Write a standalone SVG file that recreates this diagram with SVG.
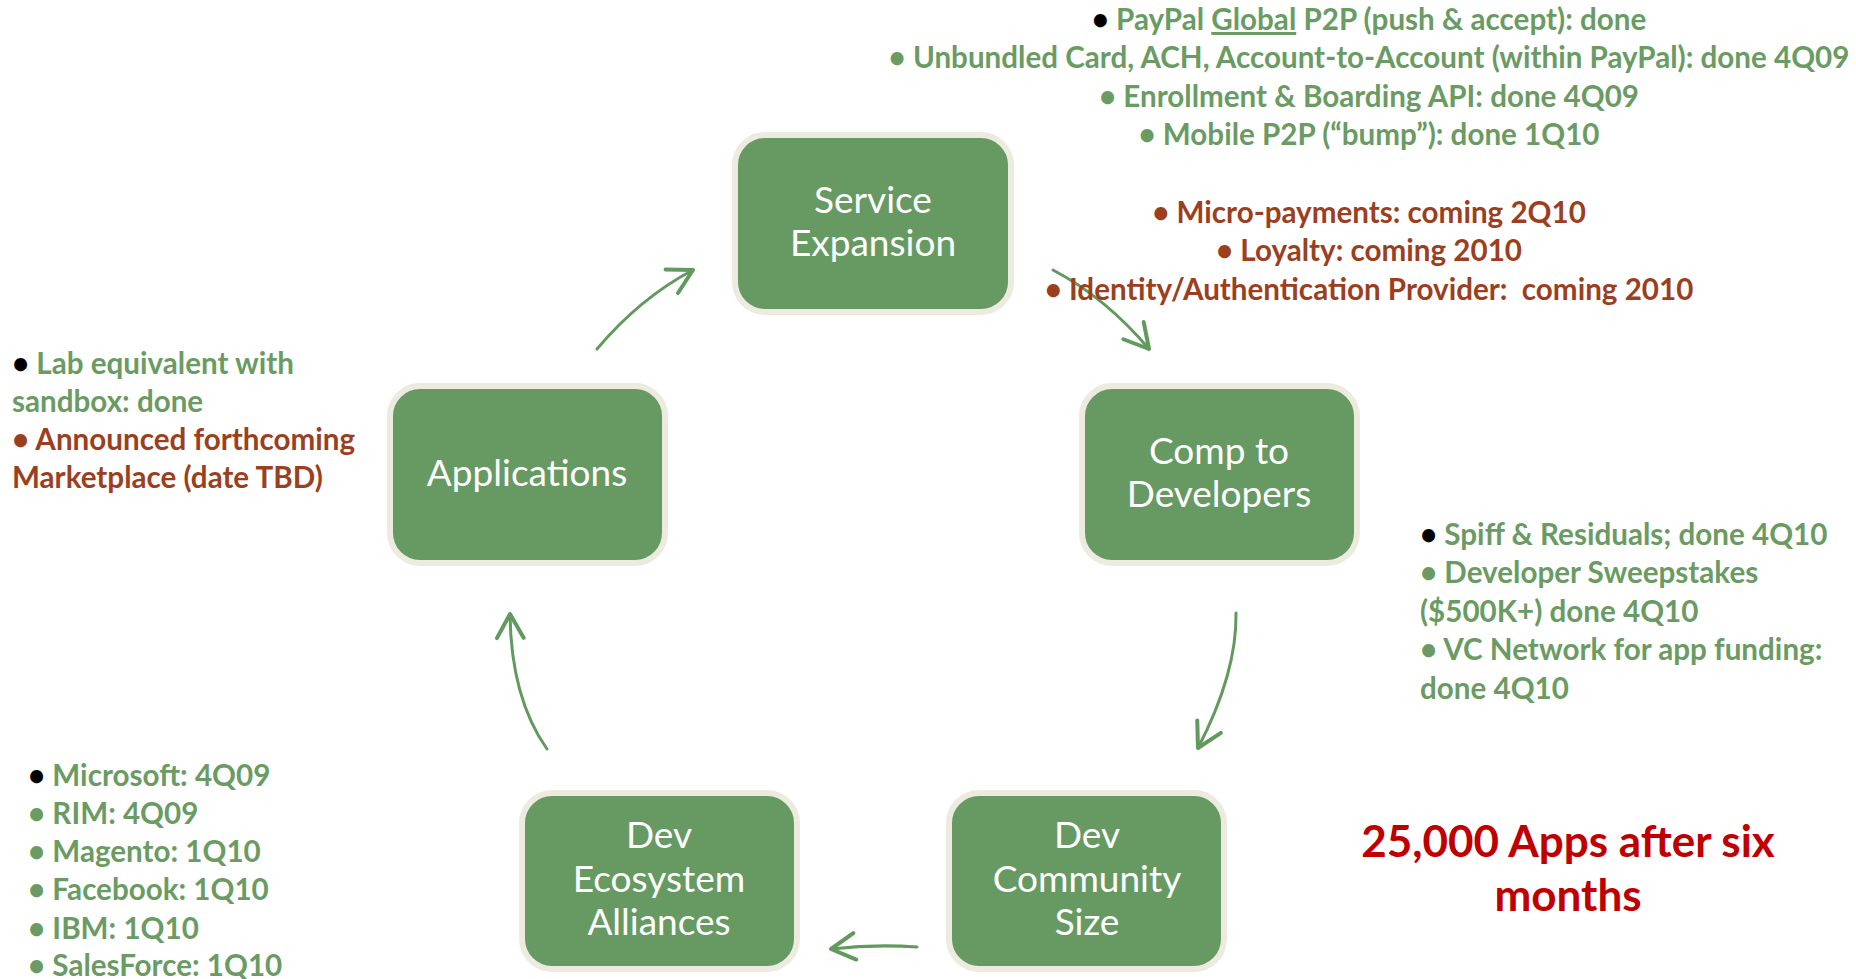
<svg xmlns="http://www.w3.org/2000/svg" width="1856" height="979" viewBox="0 0 1856 979">
<style>
.box{fill:#679A63;stroke:#EDEAE0;stroke-width:6}
.bt{font-family:Lato,"Liberation Sans",sans-serif;font-size:37px;fill:#FFFFFF;text-anchor:middle}
.g{font-family:Lato,"Liberation Sans",sans-serif;font-weight:bold;font-size:29.6px;fill:#6A9B63}
.r{font-family:Lato,"Liberation Sans",sans-serif;font-weight:bold;font-size:29.6px;fill:#9B3F1F}
.big{font-family:Lato,"Liberation Sans",sans-serif;font-weight:bold;font-size:44px;fill:#C00000;text-anchor:middle}
.mid{text-anchor:middle}
.k{fill:#000000}
.conn path.l{fill:none;stroke:#629A5E;stroke-width:3;stroke-linecap:round}
</style>
<defs>
<marker id="ah" markerUnits="userSpaceOnUse" markerWidth="40" markerHeight="40" viewBox="-25 -15 30 30" refX="0" refY="0" orient="auto">
<path d="M-18,-10 L0,0 L-18,10" fill="none" stroke="#629A5E" stroke-width="3" stroke-linecap="round" stroke-linejoin="round"/>
</marker>
</defs>
<rect width="1856" height="979" fill="#FFFFFF"/>

<g id="connectors" class="conn">
<path class="l" d="M597,349 Q640,298 693,270" marker-end="url(#ah)"/>
<path class="l" d="M1053,270 Q1106,298 1149,349" marker-end="url(#ah)"/>
<path class="l" d="M1236,613 Q1237,673 1198,748" marker-end="url(#ah)"/>
<path class="l" d="M917,947 Q875,944 831,949" marker-end="url(#ah)"/>
<path class="l" d="M547,749 Q511,698 510,614" marker-end="url(#ah)"/>
</g>

<g id="node-service">
<rect class="box" x="735" y="135" width="276" height="177" rx="30"/>
<text class="bt" x="873" y="213">Service</text>
<text class="bt" x="873" y="256">Expansion</text>
</g>
<g id="node-comp">
<rect class="box" x="1082" y="386" width="275" height="177" rx="30"/>
<text class="bt" x="1219" y="464">Comp to</text>
<text class="bt" x="1219" y="507">Developers</text>
</g>
<g id="node-applications">
<rect class="box" x="390" y="386" width="275" height="177" rx="30"/>
<text class="bt" x="527" y="486">Applications</text>
</g>
<g id="node-ecosystem">
<rect class="box" x="522" y="793" width="275" height="176" rx="30"/>
<text class="bt" x="659" y="848">Dev</text>
<text class="bt" x="659" y="892">Ecosystem</text>
<text class="bt" x="659" y="935">Alliances</text>
</g>
<g id="node-community">
<rect class="box" x="949" y="793" width="275" height="176" rx="30"/>
<text class="bt" x="1087" y="848">Dev</text>
<text class="bt" x="1087" y="892">Community</text>
<text class="bt" x="1087" y="935">Size</text>
</g>

<g id="notes-service">
<text class="g mid" x="1369" y="30"><tspan class="k">•</tspan> PayPal <tspan text-decoration="underline">Global</tspan> P2P (push &amp; accept): done</text>
<text class="g mid" x="1369" y="68">• Unbundled Card, ACH, Account-to-Account (within PayPal): done 4Q09</text>
<text class="g mid" x="1369" y="107">• Enrollment &amp; Boarding API: done 4Q09</text>
<text class="g mid" x="1369" y="145">• Mobile P2P (“bump”): done 1Q10</text>
<text class="r mid" x="1369" y="223">• Micro-payments: coming 2Q10</text>
<text class="r mid" x="1369" y="261">• Loyalty: coming 2010</text>
<text class="r mid" x="1369" y="300" xml:space="preserve">• Identity/Authentication Provider:  coming 2010</text>
</g>

<g id="notes-applications">
<text class="g" x="12" y="374"><tspan class="k">•</tspan> Lab equivalent with</text>
<text class="g" x="12" y="412">sandbox: done</text>
<text class="r" x="12" y="450">• Announced forthcoming</text>
<text class="r" x="12" y="488">Marketplace (date TBD)</text>
</g>

<g id="notes-comp">
<text class="g" x="1420" y="545"><tspan class="k">•</tspan> Spiff &amp; Residuals; done 4Q10</text>
<text class="g" x="1420" y="583">• Developer Sweepstakes</text>
<text class="g" x="1420" y="622">($500K+) done 4Q10</text>
<text class="g" x="1420" y="660">• VC Network for app funding:</text>
<text class="g" x="1420" y="699">done 4Q10</text>
</g>

<g id="notes-ecosystem">
<text class="g" x="28" y="786"><tspan class="k">•</tspan> Microsoft: 4Q09</text>
<text class="g" x="28" y="824">• RIM: 4Q09</text>
<text class="g" x="28" y="862">• Magento: 1Q10</text>
<text class="g" x="28" y="900">• Facebook: 1Q10</text>
<text class="g" x="28" y="939">• IBM: 1Q10</text>
<text class="g" x="28" y="976">• SalesForce: 1Q10</text>
</g>

<g id="headline">
<text class="big" x="1568" y="857">25,000 Apps after six</text>
<text class="big" x="1568" y="911">months</text>
</g>
</svg>
